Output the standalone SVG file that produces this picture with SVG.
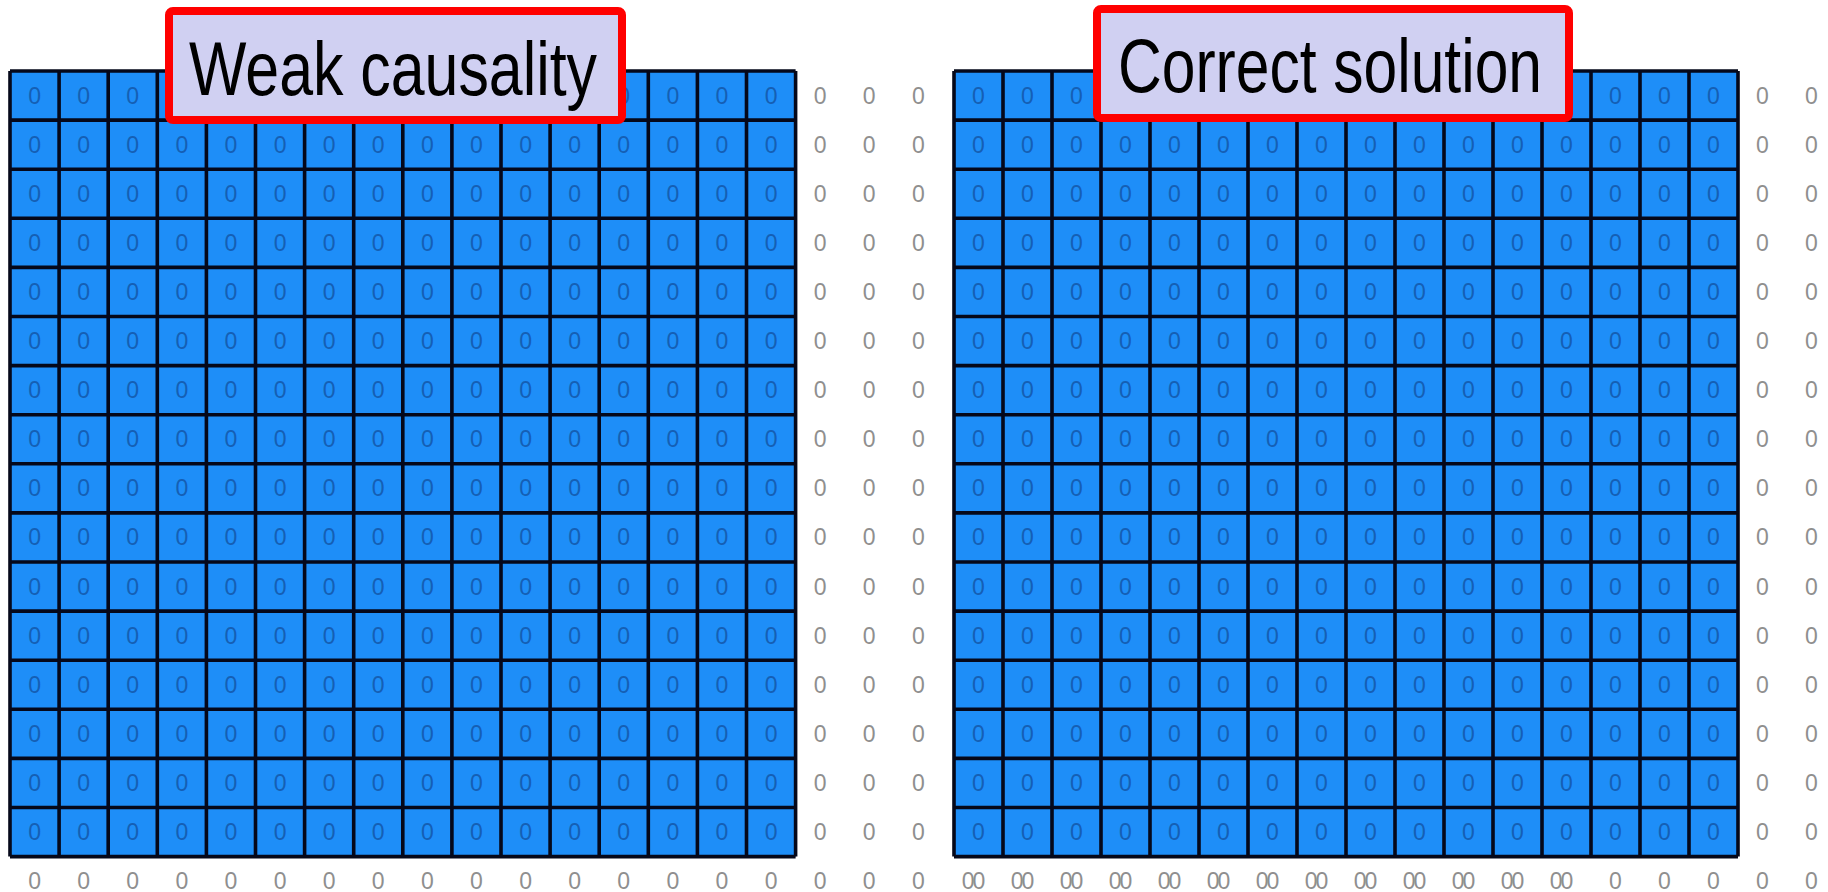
<svg xmlns="http://www.w3.org/2000/svg" xmlns:xlink="http://www.w3.org/1999/xlink" width="1828" height="892" viewBox="0 0 1828 892">
<style>
.z{font-family:"Liberation Sans",Arial,sans-serif;font-size:23px;text-anchor:middle;fill:#155fb4}
.g{font-family:"Liberation Sans",Arial,sans-serif;font-size:23px;text-anchor:middle;fill:#8f8f8f}
.gg{font-family:"Liberation Sans",Arial,sans-serif;font-size:23px;text-anchor:middle;fill:#8f8f8f;letter-spacing:-2px}
.cell{fill:#1e8ef8}
.gl{fill:none;stroke:#05081a;stroke-width:3.6}
.lb{fill:#d0d0f2;stroke:#ff0000;stroke-width:8}
.lt{font-family:"Liberation Sans",Arial,sans-serif;font-size:76px;fill:#000}
</style>
<defs>
<g id="rowL">
<text class="z" x="34.55">0</text><text class="z" x="83.65">0</text><text class="z" x="132.75">0</text><text class="z" x="181.85">0</text><text class="z" x="230.95">0</text><text class="z" x="280.05">0</text><text class="z" x="329.15">0</text><text class="z" x="378.25">0</text><text class="z" x="427.35">0</text><text class="z" x="476.45">0</text><text class="z" x="525.55">0</text><text class="z" x="574.65">0</text><text class="z" x="623.75">0</text><text class="z" x="672.85">0</text><text class="z" x="721.95">0</text><text class="z" x="771.05">0</text>
<text class="g" x="820.15">0</text><text class="g" x="869.25">0</text><text class="g" x="918.35">0</text>
</g>
<g id="rowR">
<text class="z" x="978.5">0</text><text class="z" x="1027.5">0</text><text class="z" x="1076.5">0</text><text class="z" x="1125.5">0</text><text class="z" x="1174.5">0</text><text class="z" x="1223.5">0</text><text class="z" x="1272.5">0</text><text class="z" x="1321.5">0</text><text class="z" x="1370.5">0</text><text class="z" x="1419.5">0</text><text class="z" x="1468.5">0</text><text class="z" x="1517.5">0</text><text class="z" x="1566.5">0</text><text class="z" x="1615.5">0</text><text class="z" x="1664.5">0</text><text class="z" x="1713.5">0</text>
<text class="g" x="1762.5">0</text><text class="g" x="1811.5">0</text>
</g>
</defs>
<rect width="1828" height="892" fill="#ffffff"/>

<g id="grid-left">
<rect class="cell" x="10" y="71" width="785.6" height="785.6"/>
<path class="gl" d="M10 71V856.6M59.1 71V856.6M108.2 71V856.6M157.3 71V856.6M206.4 71V856.6M255.5 71V856.6M304.6 71V856.6M353.7 71V856.6M402.8 71V856.6M451.9 71V856.6M501 71V856.6M550.1 71V856.6M599.2 71V856.6M648.3 71V856.6M697.4 71V856.6M746.5 71V856.6M795.6 71V856.6M10 71H795.6M10 120.1H795.6M10 169.2H795.6M10 218.3H795.6M10 267.4H795.6M10 316.5H795.6M10 365.6H795.6M10 414.7H795.6M10 463.8H795.6M10 512.9H795.6M10 562H795.6M10 611.1H795.6M10 660.2H795.6M10 709.3H795.6M10 758.4H795.6M10 807.5H795.6M10 856.6H795.6"/>
<use xlink:href="#rowL" y="103.5"/><use xlink:href="#rowL" y="152.6"/><use xlink:href="#rowL" y="201.7"/><use xlink:href="#rowL" y="250.8"/><use xlink:href="#rowL" y="299.9"/><use xlink:href="#rowL" y="349"/><use xlink:href="#rowL" y="398.1"/><use xlink:href="#rowL" y="447.2"/><use xlink:href="#rowL" y="496.3"/><use xlink:href="#rowL" y="545.4"/><use xlink:href="#rowL" y="594.5"/><use xlink:href="#rowL" y="643.6"/><use xlink:href="#rowL" y="692.7"/><use xlink:href="#rowL" y="741.8"/><use xlink:href="#rowL" y="790.9"/><use xlink:href="#rowL" y="840"/>
<g id="bottom-left">
<text class="g" x="34.55" y="889">0</text><text class="g" x="83.65" y="889">0</text><text class="g" x="132.75" y="889">0</text><text class="g" x="181.85" y="889">0</text><text class="g" x="230.95" y="889">0</text><text class="g" x="280.05" y="889">0</text><text class="g" x="329.15" y="889">0</text><text class="g" x="378.25" y="889">0</text><text class="g" x="427.35" y="889">0</text><text class="g" x="476.45" y="889">0</text><text class="g" x="525.55" y="889">0</text><text class="g" x="574.65" y="889">0</text><text class="g" x="623.75" y="889">0</text><text class="g" x="672.85" y="889">0</text><text class="g" x="721.95" y="889">0</text><text class="g" x="771.05" y="889">0</text><text class="g" x="820.15" y="889">0</text><text class="g" x="869.25" y="889">0</text><text class="g" x="918.35" y="889">0</text>
</g>
</g>

<g id="grid-right">
<rect class="cell" x="954" y="71" width="784" height="785.6"/>
<path class="gl" d="M954 71V856.6M1003 71V856.6M1052 71V856.6M1101 71V856.6M1150 71V856.6M1199 71V856.6M1248 71V856.6M1297 71V856.6M1346 71V856.6M1395 71V856.6M1444 71V856.6M1493 71V856.6M1542 71V856.6M1591 71V856.6M1640 71V856.6M1689 71V856.6M1738 71V856.6M954 71H1738M954 120.1H1738M954 169.2H1738M954 218.3H1738M954 267.4H1738M954 316.5H1738M954 365.6H1738M954 414.7H1738M954 463.8H1738M954 512.9H1738M954 562H1738M954 611.1H1738M954 660.2H1738M954 709.3H1738M954 758.4H1738M954 807.5H1738M954 856.6H1738"/>
<use xlink:href="#rowR" y="103.5"/><use xlink:href="#rowR" y="152.6"/><use xlink:href="#rowR" y="201.7"/><use xlink:href="#rowR" y="250.8"/><use xlink:href="#rowR" y="299.9"/><use xlink:href="#rowR" y="349"/><use xlink:href="#rowR" y="398.1"/><use xlink:href="#rowR" y="447.2"/><use xlink:href="#rowR" y="496.3"/><use xlink:href="#rowR" y="545.4"/><use xlink:href="#rowR" y="594.5"/><use xlink:href="#rowR" y="643.6"/><use xlink:href="#rowR" y="692.7"/><use xlink:href="#rowR" y="741.8"/><use xlink:href="#rowR" y="790.9"/><use xlink:href="#rowR" y="840"/>
<g id="bottom-right">
<text class="gg" x="972.5" y="889">00</text><text class="gg" x="1021.5" y="889">00</text><text class="gg" x="1070.5" y="889">00</text><text class="gg" x="1119.5" y="889">00</text><text class="gg" x="1168.5" y="889">00</text><text class="gg" x="1217.5" y="889">00</text><text class="gg" x="1266.5" y="889">00</text><text class="gg" x="1315.5" y="889">00</text><text class="gg" x="1364.5" y="889">00</text><text class="gg" x="1413.5" y="889">00</text><text class="gg" x="1462.5" y="889">00</text><text class="gg" x="1511.5" y="889">00</text><text class="gg" x="1560.5" y="889">00</text>
<text class="g" x="1615.5" y="889">0</text><text class="g" x="1664.5" y="889">0</text><text class="g" x="1713.5" y="889">0</text><text class="g" x="1762.5" y="889">0</text><text class="g" x="1811.5" y="889">0</text>
</g>
</g>

<g id="label-weak">
<rect class="lb" x="169" y="11" width="453" height="109" rx="4"/>
<text class="lt" x="189" y="95" textLength="408" lengthAdjust="spacingAndGlyphs">Weak causality</text>
</g>
<g id="label-correct">
<rect class="lb" x="1097" y="9" width="472" height="109" rx="4"/>
<text class="lt" x="1118" y="92" textLength="424" lengthAdjust="spacingAndGlyphs">Correct solution</text>
</g>
<g id="connectors"></g>
</svg>
